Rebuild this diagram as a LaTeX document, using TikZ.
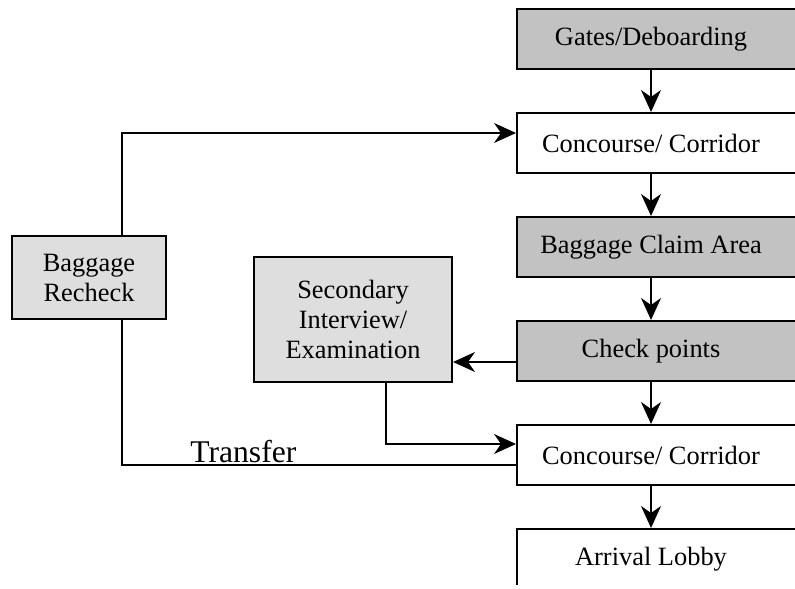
\documentclass[tikz,border=0pt]{standalone}
\usepackage{fontspec}
\setmainfont{Liberation Serif}
\usepackage{tikz}
\usetikzlibrary{arrows.meta,positioning}
\definecolor{stagegray}{gray}{0.76}
\definecolor{sidegray}{gray}{0.87}
\tikzset{>={Stealth[length=11pt,width=10pt,inset=3.5pt]}}
\tikzset{
	stage/.style={draw,line width=1pt,minimum width=145pt,minimum height=30pt,inner sep=0pt,
		font=\rmfamily\fontsize{13.2pt}{15pt}\selectfont,execute at end node={\hspace*{11pt}}},
	shadedstage/.style={stage,fill=stagegray},
	sidebox/.style={draw,line width=1pt,fill=sidegray,align=center,inner sep=0pt,
		font=\rmfamily\fontsize{13.2pt}{15pt}\selectfont},
	flow/.style={->,line width=0.7pt},
	link/.style={line width=0.7pt}
}

\begin{document}
\begin{tikzpicture}[line cap=butt,line join=miter,x=0.5pt,y=-0.5pt,node distance=21pt]
		\useasboundingbox (0,0) rectangle (795,588);
		\clip (0,0) rectangle (795,584);
		\coordinate (axis) at (651,0);
		% main column
		\node[shadedstage] (gates) at (662,39) {Gates/Deboarding};
		\node[stage,below=of gates] (hall1) {Concourse/ Corridor};
		\node[shadedstage,below=of hall1] (claim) {Baggage Claim Area};
		\node[shadedstage,below=of claim] (check) {Check points};
		\node[stage,below=of check] (hall2) {Concourse/ Corridor};
		\node[stage,below=of hall2] (lobby) {Arrival Lobby};
		% side boxes
		\node[sidebox,minimum width=77pt,minimum height=41.5pt] (recheck) at (89,277.5) {Baggage\\Recheck};
		\node[sidebox,minimum width=99pt,minimum height=62.5pt] (exam) at (353,319.5) {Secondary\\Interview/\\Examination};
		\node[anchor=base west,inner sep=0pt,font=\rmfamily\fontsize{15.8pt}{18pt}\selectfont] (transfer) at (190,462) {Transfer};
		% connectors
		\draw[flow] (gates.south -| axis) -- (hall1.north -| axis);
		\draw[flow] (hall1.south -| axis) -- (claim.north -| axis);
		\draw[flow] (claim.south -| axis) -- (check.north -| axis);
		\draw[flow] (check.south -| axis) -- (hall2.north -| axis);
		\draw[flow] (hall2.south -| axis) -- (lobby.north -| axis);
		\draw[flow] ([yshift=-5.5pt]check.west) -- ([yshift=-5.5pt]check.west -| exam.east);
		\draw[flow] ([xshift=16.5pt]recheck.north) |- ([yshift=5pt]hall1.west);
		\draw[link] ([xshift=16.5pt]recheck.south) |- ([yshift=-5pt]hall2.west);
		\draw[flow] ([xshift=16.5pt]exam.south) |- ([yshift=5.5pt]hall2.west);
\end{tikzpicture}
\end{document}
